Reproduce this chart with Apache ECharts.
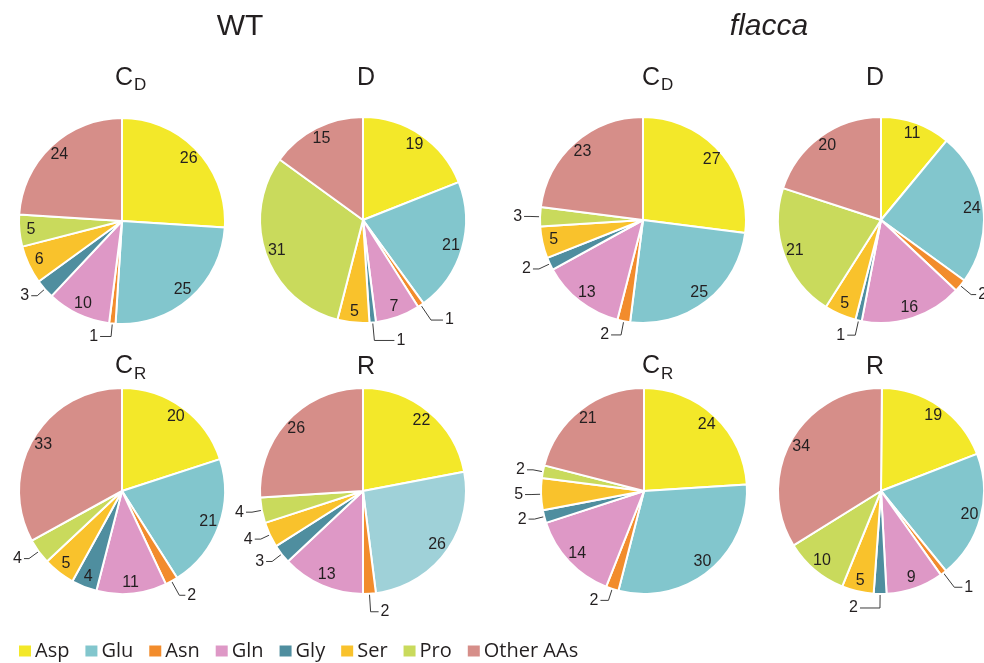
<!DOCTYPE html>
<html>
<head>
<meta charset="utf-8">
<script src="https://cdn.jsdelivr.net/npm/echarts@6/dist/echarts.min.js"></script>
<style>
  html, body { margin: 0; padding: 0; background: #ffffff; }
  #chart { width: 984px; height: 663px; }
</style>
</head>
<body>
<div id="chart"></div>
<script>
// Amino-acid composition (%) of each tissue / genotype
const aminoAcids = ['Asp', 'Glu', 'Asn', 'Gln', 'Gly', 'Ser', 'Pro', 'Other AAs'];
const wtCD     = [26, 25, 1, 10, 3, 6, 5, 24];
const wtD      = [19, 21, 1, 7, 1, 5, 31, 15];
const flaccaCD = [27, 25, 2, 13, 2, 5, 3, 23];
const flaccaD  = [11, 24, 2, 16, 1, 5, 21, 20];
const wtCR     = [20, 21, 2, 11, 4, 5, 4, 33];
const wtR      = [22, 26, 2, 13, 3, 4, 4, 26];
const flaccaCR = [24, 30, 2, 14, 2, 5, 2, 21];
const flaccaR  = [19, 20, 1, 9, 2, 5, 10, 34];

const groupTitles = ['WT', 'flacca'];

const colors = ['#f3e829', '#82c6cd', '#f28c2c', '#de98c6', '#4f8e9f', '#f9c22c', '#c9da5c', '#d68e89'];
const numFont = '"Liberation Sans", Arial, sans-serif';
const R = 103;

// layout of the eight pies; "outside" lists slices labelled with a leader line [length, length2]
const panels = [
  { values: wtCD,     center: [122, 221], outside: { Asn: [13, 11], Gly: [10, 6] } },
  { values: wtD,      center: [363, 220], outside: { Asn: [18, 12], Gly: [18, 20] } },
  { values: flaccaCD, center: [643, 220], outside: { Asn: [14, 10], Gly: [12, 6], Pro: [10, 6] } },
  { values: flaccaD,  center: [881, 220], outside: { Asn: [14, 5], Gly: [15, 8] } },
  { values: wtCR,     center: [122, 491], outside: { Asn: [16, 6], Pro: [12, 5] } },
  { values: wtR,      center: [363, 491], outside: { Asn: [18, 8], Gly: [12, 6], Ser: [10, 6], Pro: [10, 6] }, glu: '#9fd1d8' },
  { values: flaccaCR, center: [644, 491], outside: { Asn: [12, 8], Gly: [10, 6], Ser: [10, 6], Pro: [10, 6] } },
  { values: flaccaR,  center: [881, 491], outside: { Asn: [18, 8], Gly: [14, 20] }, start: 89.5 }
];

const series = [];
panels.forEach(function (p, k) {
  const base = {
    type: 'pie',
    left: 0, top: 0, width: 1400, height: 1000,
    center: p.center,
    startAngle: p.start || 90,
    clockwise: true,
    animation: false,
    emphasis: { disabled: true, scale: false }
  };
  // coloured sectors with leader-line labels for thin slices
  series.push(Object.assign({}, base, {
    name: 'pie' + k,
    radius: [0, R],
    avoidLabelOverlap: true,
    itemStyle: { borderColor: '#ffffff', borderWidth: 2 },
    label: {
      show: false, position: 'outside', formatter: '{c}',
      fontFamily: numFont, fontSize: 16, color: '#231f20',
      distanceToLabelLine: 2, bleedMargin: 0, overflow: 'none'
    },
    labelLine: { show: false, length: 12, length2: 6, lineStyle: { color: '#3c3c3c', width: 1 } },
    data: aminoAcids.map(function (name, i) {
      const out = p.outside[name];
      const item = {
        name: name, value: p.values[i],
        itemStyle: { color: (i === 1 && p.glu) ? p.glu : colors[i] },
        label: { show: !!out },
        labelLine: { show: !!out }
      };
      if (out) { item.labelLine.length = out[0]; item.labelLine.length2 = out[1]; }
      return item;
    })
  }));
});
// value labels placed inside the larger slices (ring overlay sets their radial position)
panels.forEach(function (p, k) {
  series.push({
    type: 'pie', name: 'val' + k,
    left: 0, top: 0, width: 1400, height: 1000,
    center: p.center, radius: [R * 0.72, R],
    startAngle: p.start || 90, clockwise: true,
    animation: false, silent: true,
    emphasis: { disabled: true, scale: false },
    itemStyle: { color: 'rgba(0,0,0,0)', borderWidth: 0 },
    label: {
      show: true, position: 'inside', formatter: '{c}',
      fontFamily: numFont, fontSize: 16, color: '#231f20'
    },
    labelLine: { show: false },
    data: aminoAcids.map(function (name, i) {
      return { name: name, value: p.values[i], label: { show: !p.outside[name] } };
    })
  });
});

function txt(text, x, y, size, opts) {
  opts = opts || {};
  return {
    type: 'text', x: x, y: y, silent: true,
    style: {
      text: text, fill: '#231f20',
      font: (opts.italic ? 'italic ' : '') + size + 'px "Liberation Sans", Arial, sans-serif',
      textAlign: opts.align || 'left', textVerticalAlign: 'middle'
    }
  };
}

const graphics = [
  txt(groupTitles[0], 240, 27, 30, { align: 'center' }),
  txt(groupTitles[1], 769, 27, 30, { align: 'center', italic: true }),
  // row 1 headings
  txt('C', 115, 78, 25), txt('D', 134, 85, 17),
  txt('D', 366, 78, 25, { align: 'center' }),
  txt('C', 642, 78, 25), txt('D', 661, 85, 17),
  txt('D', 875, 78, 25, { align: 'center' }),
  // row 2 headings
  txt('C', 115, 366, 25), txt('R', 134, 374, 17),
  txt('R', 366, 367, 25, { align: 'center' }),
  txt('C', 642, 366, 25), txt('R', 661, 374, 17),
  txt('R', 875, 367, 25, { align: 'center' })
];

const chart = echarts.init(document.getElementById('chart'), null, { renderer: 'canvas' });
chart.setOption({
  backgroundColor: '#ffffff',
  animation: false,
  tooltip: { show: false },
  legend: {
    show: true,
    data: aminoAcids,
    selectedMode: false,
    orient: 'horizontal',
    left: 17, top: 641, padding: 0,
    icon: 'rect',
    itemWidth: 14, itemHeight: 13, itemGap: 14,
    textStyle: { fontFamily: '"Open Sans", sans-serif', fontSize: 20, color: '#231f20', padding: [0, 0, 0, -2] }
  },
  graphic: graphics,
  series: series
});
</script>
</body>
</html>
